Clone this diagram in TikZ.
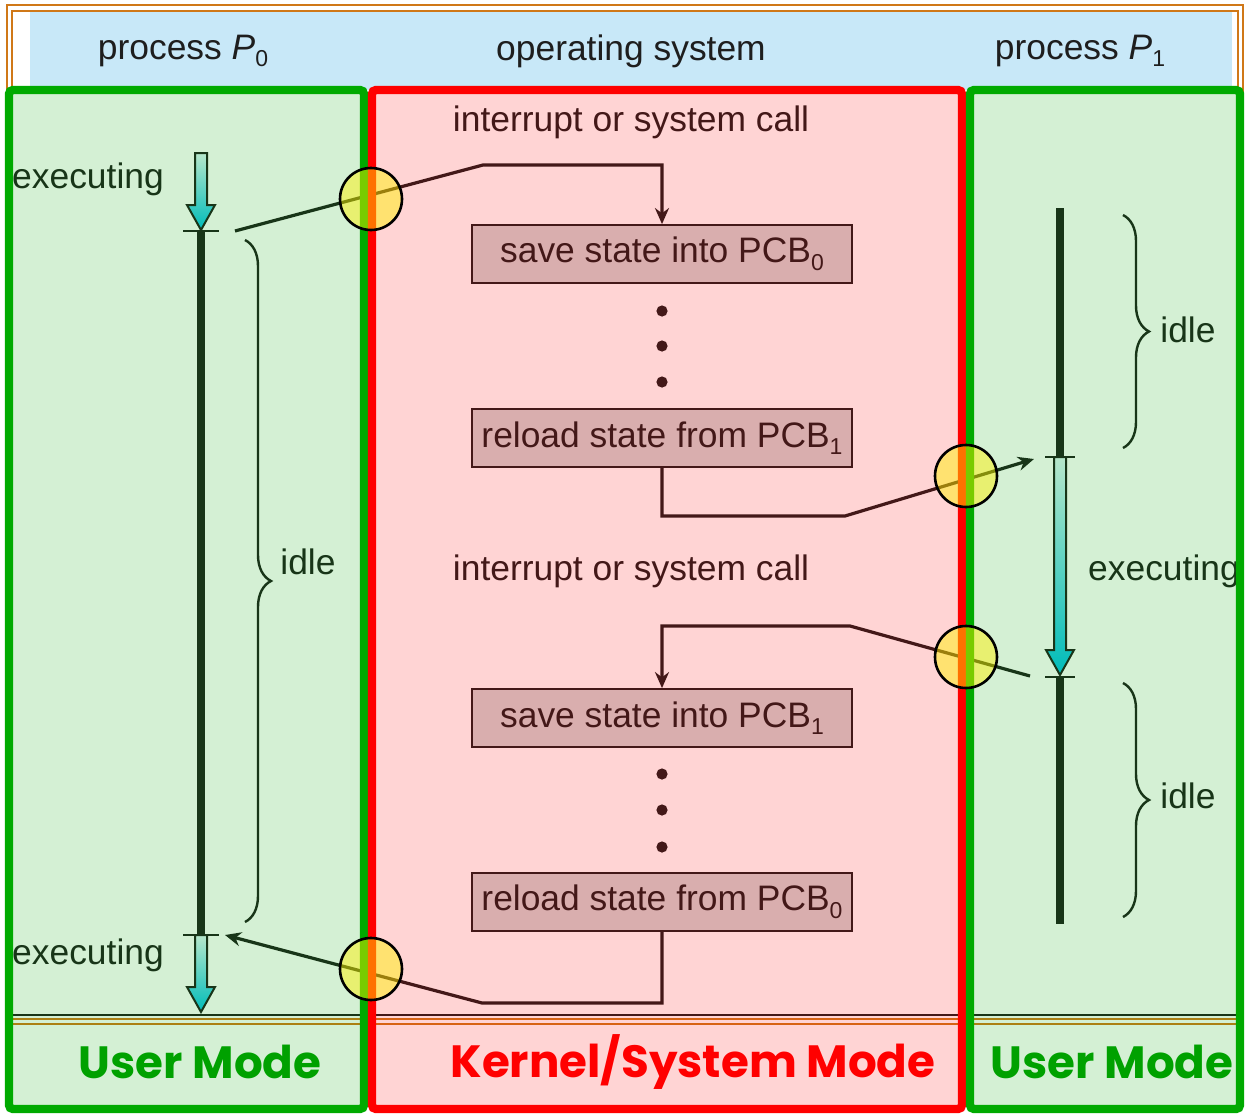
\documentclass[tikz,border=0pt]{standalone}
\usepackage{fontspec}
\setmainfont{Liberation Sans}
\newfontfamily\modefont{Poppins}
\usetikzlibrary{arrows.meta, decorations.pathreplacing}
\definecolor{ink}{HTML}{1E1E1E}
\definecolor{bandblue}{HTML}{C8E8F8}
\definecolor{framebrown}{HTML}{D07818}
\definecolor{usergreen}{HTML}{00AA00}
\definecolor{kernelred}{HTML}{FF0000}
\definecolor{boxgray}{HTML}{D2D2D2}
\definecolor{arrtop}{HTML}{DCF4F4}
\definecolor{arrbot}{HTML}{00C0E0}
\newcommand{\figfont}{\fontsize{17.7}{21}\selectfont}
\newcommand{\modesize}{\fontsize{22.6}{27}\selectfont}
\newcommand{\lowidx}[1]{\raisebox{-0.4ex}{\fontsize{11.5}{12}\selectfont #1}}
\newcommand{\execarrow}[3]{% x, top y, tip y
  \shade[top color=arrtop, bottom color=arrbot, draw=ink, line width=1pt]
    ({#1-6},#2) -- ({#1+6},#2) -- ({#1+6},{#3-25}) -- ({#1+14},{#3-25})
    -- (#1,#3) -- ({#1-14},{#3-25}) -- ({#1-6},{#3-25}) -- cycle;}
\tikzstyle{txt} = [text=ink, font=\figfont, inner sep=1pt]
\tikzstyle{block} = [draw=ink, fill=boxgray, line width=0.9pt, rectangle,
    minimum width=190pt, minimum height=29pt, text=ink, font=\figfont, inner sep=0pt]
\tikzstyle{flow} = [line width=1.6pt, draw=ink, -{Stealth[length=8pt,width=7pt]}]
\tikzstyle{lifebar} = [line width=3.8pt, draw=ink]
\tikzstyle{tickmark} = [line width=0.9pt, draw=ink]
\tikzstyle{idlebrace} = [decorate, decoration={brace, amplitude=13pt}, line width=1.2pt, draw=ink]
\tikzstyle{zonebox} = [line width=4.2pt, rounded corners=2pt]
\tikzstyle{switchdot} = [draw=black, line width=1.3pt, fill=yellow, fill opacity=0.47,
    circle, minimum size=31pt, inner sep=0pt]
\tikzstyle{modelabel} = [font=\modefont\bfseries\modesize]

\begin{document}
\begin{tikzpicture}[x=0.5pt, y=-0.5pt]
        \fill[white] (0,0) rectangle (1250,1114);
        \useasboundingbox (0,0) rectangle (1250,1114);

        % frame and header band
        \draw[framebrown, line width=1pt] (7,5) rectangle (1243,1024);
        \draw[framebrown, line width=1pt] (12,11) rectangle (1238,1019);
        \fill[bandblue] (30,12) rectangle (1232,90);
        \node [txt] (h0) at (183,51) {process \textit{P}\lowidx{0}};
        \node [txt] (hos) at (631,51) {operating system};
        \node [txt] (h1) at (1080,51) {process \textit{P}\lowidx{1}};

        % process P0
        \execarrow{201}{153}{230}
        \execarrow{201}{935}{1012}
        \coordinate (p0run) at (201,231);
        \coordinate (p0stop) at (201,935);
        \draw [lifebar] (p0run) -- (p0stop);
        \draw [tickmark] (183,231) -- (219,231);
        \draw [tickmark] (183,935) -- (219,935);
        \node [txt] (ex0) at (88,179) {executing};
        \node [txt] (ex2) at (88,955) {executing};
        \draw [idlebrace] (245,240) -- (245,922);
        \node [txt] (idle0) at (308,562) {idle};

        % process P1
        \execarrow{1060}{457}{675}
        \coordinate (p1top) at (1060,208);
        \coordinate (p1run) at (1060,457);
        \coordinate (p1stop) at (1060,677);
        \coordinate (p1end) at (1060,924);
        \draw [lifebar] (p1top) -- (p1run);
        \draw [lifebar] (p1stop) -- (p1end);
        \draw [tickmark] (1045,457) -- (1075,457);
        \draw [tickmark] (1045,677) -- (1075,677);
        \node [txt] (ex1) at (1164,571) {executing};
        \draw [idlebrace] (1123,215) -- (1123,448);
        \node [txt] (idle1) at (1188,330) {idle};
        \draw [idlebrace] (1123,683) -- (1123,917);
        \node [txt] (idle2) at (1188,796) {idle};

        % operating system
        \node [txt] (irq0) at (631,122) {interrupt or system call};
        \node [txt] (irq1) at (631,571) {interrupt or system call};
        \node [block] (save0) at (662,254) {save state into PCB\lowidx{0}};
        \node [block] (reload1) at (662,438) {reload state from PCB\lowidx{1}};
        \node [block] (save1) at (662,718) {save state into PCB\lowidx{1}};
        \node [block] (reload0) at (662,902) {reload state from PCB\lowidx{0}};
        \foreach \y in {311,346,382,774,810,847}
            \fill[ink] (662,\y) circle (2.8pt);

        % switches
        \coordinate (from0) at (235,231);
        \coordinate (to1) at (1034,459);
        \coordinate (from1) at (1030,676);
        \coordinate (to0) at (225,935);
        \draw [flow] (from0) -- (483,165) -| (save0.north);
        \draw [flow] (reload1.south) |- (845,516) -- (to1);
        \draw [flow] (from1) -- (850,626) -| (save1.north);
        \draw [flow] (reload0.south) |- (482,1003) -- (to0);

        \draw[ink, line width=1.4pt] (12,1015) -- (1238,1015);

        % mode zones
        \fill[usergreen, fill opacity=0.17, rounded corners=2pt] (9,90) rectangle (364,1109);
        \fill[kernelred, fill opacity=0.17, rounded corners=2pt] (372,90) rectangle (962,1109);
        \fill[usergreen, fill opacity=0.17, rounded corners=2pt] (970,90) rectangle (1240,1109);
        \draw[zonebox, usergreen] (9,90) rectangle (364,1109);
        \draw[zonebox, kernelred] (372,90) rectangle (962,1109);
        \draw[zonebox, usergreen] (970,90) rectangle (1240,1109);
        \node [modelabel, text=usergreen!95!black] (um0) at (200,1062) {User Mode};
        \node [modelabel, text=kernelred] (km) at (693,1062) {Kernel/System Mode};
        \node [modelabel, text=usergreen!95!black] (um1) at (1112,1062) {User Mode};

        \node [switchdot] (c1) at (371,199) {};
        \node [switchdot] (c2) at (966,476) {};
        \node [switchdot] (c3) at (966,657) {};
        \node [switchdot] (c4) at (371,969) {};
    \end{tikzpicture}
\end{document}
